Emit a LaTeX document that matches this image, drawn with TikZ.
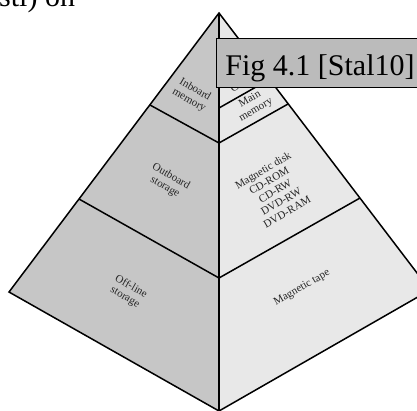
\documentclass[tikz,border=0pt]{standalone}
\usepackage{fontspec}
\setmainfont{Liberation Serif}

\definecolor{leftgray}{HTML}{C6C6C6}
\definecolor{rightgray}{HTML}{E8E8E8}
\definecolor{labelgray}{HTML}{BBBBBB}

\begin{document}
\begin{tikzpicture}[
        x=1pt, y=-1pt,
        edge/.style={line width=1.5pt, line join=miter},
        tier/.style={font=\fontsize{11}{12}\selectfont, text=black!85, align=center, inner sep=0pt},
        caption/.style={draw, line width=0.8pt, fill=labelgray, anchor=north west,
            font=\fontsize{30}{36}\selectfont, inner xsep=9pt, inner ysep=0pt,
            text height=28pt, text depth=2pt, minimum height=49pt}
    ]
    \useasboundingbox (0,0) rectangle (417,410);
    \clip (0,0) rectangle (417,410);

    % corners of the pyramid
    \coordinate (apex) at (219,13);
    \coordinate (lcorner) at (9,292);
    \coordinate (rcorner) at (430,290);
    \coordinate (base) at (219,411);

    % ends of the tier lines
    \coordinate (mainjoin) at (219,108);
    \coordinate (innerjoin) at (219,143);
    \coordinate (lowjoin) at (219,278);
    \coordinate (l1) at (150,105);
    \coordinate (l2) at (79,199);
    \coordinate (r1) at (270,79);
    \coordinate (r2) at (288,104);
    \coordinate (r3) at (360,198);

    \fill[leftgray] (apex) -- (lcorner) -- (base) -- cycle;
    \fill[rightgray] (apex) -- (base) -- (rcorner) -- cycle;

    \draw[edge] (apex) -- (lcorner) -- (base) -- (rcorner) -- cycle;
    \draw[edge] (apex) -- (base);
    \draw[edge] (l1) -- (innerjoin) -- (r2);
    \draw[edge] (l2) -- (lowjoin) -- (r3);
    \draw[edge] (mainjoin) -- (r1);

    \node[tier, rotate=-30] (inboard) at (192,95) {Inboard\\memory};
    \node[tier, rotate=30] (cache) at (243,82) {Cache};
    \node[tier, rotate=30] (mainmem) at (253,105) {Main\\memory};
    \node[tier, rotate=-30] (outboard) at (168,182) {Outboard\\storage};
    \node[tier, rotate=30] (disks) at (275,191) {Magnetic disk\\CD-ROM\\CD-RW\\DVD-RW\\DVD-RAM};
    \node[tier, rotate=-30] (offline) at (128,292) {Off-line\\storage};
    \node[tier, rotate=30] (tape) at (302,288) {Magnetic tape};

    \node[caption] (figlabel) at (216,38) {Fig 4.1 [Stal10]};
    \node[anchor=base west, inner sep=0pt, font=\fontsize{30}{36}\selectfont] (prevline) at (-1,6) {stl) on};
\end{tikzpicture}
\end{document}
